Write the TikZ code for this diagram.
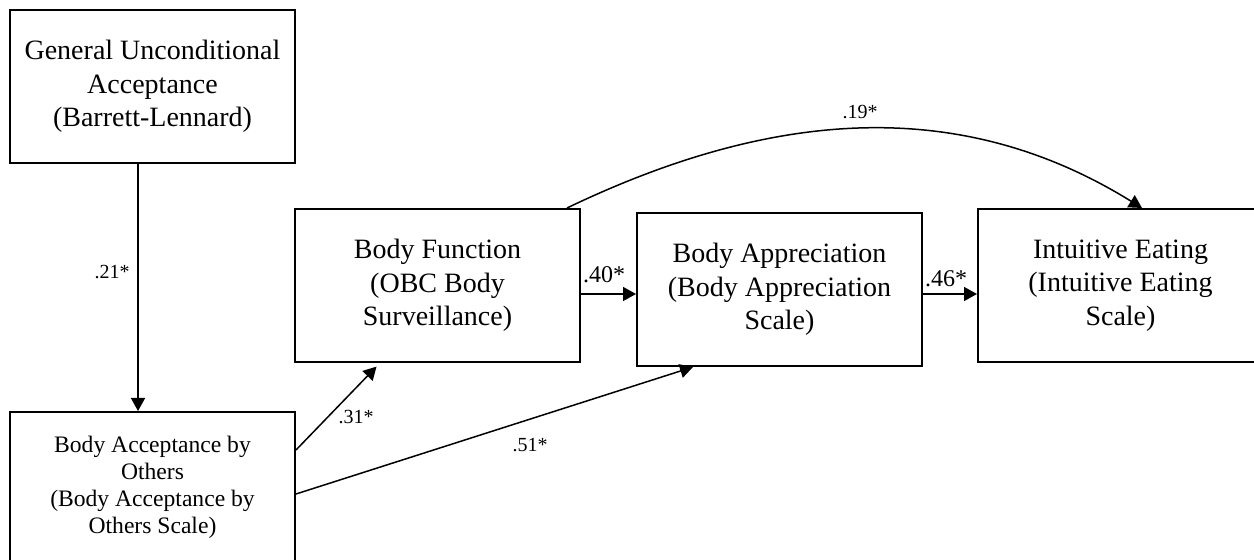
\documentclass[tikz,border=0pt]{standalone}
\usepackage{fontspec}
\setmainfont{Liberation Serif}
\usetikzlibrary{arrows.meta}

\begin{document}
\begin{tikzpicture}[x=0.5pt,y=-0.5pt,>={Triangle[length=6.5pt,width=7pt]},
box/.style={draw,line width=1pt,align=center,inner sep=0pt,minimum width=142.5pt,minimum height=76.5pt,font=\fontsize{14}{16.8}\selectfont},
link/.style={->,line width=0.75pt},
coef/.style={inner sep=0pt,font=\fontsize{10}{12}\selectfont}]
\useasboundingbox (0,0) rectangle (1254,560);

\node[box] (gua) at (152.5,86.5) {General Unconditional\\Acceptance\\(Barrett-Lennard)};
\node[box,minimum height=75.5pt,font=\fontsize{11.8}{13.5}\selectfont] (bao) at (152.5,487.5) {Body Acceptance by\\Others\\(Body Acceptance by\\Others Scale)};
\node[box] (bf) at (437.5,285.5) {Body Function\\(OBC Body\\Surveillance)};
\node[box] (ba) at (779.5,289.5) {Body Appreciation\\(Body Appreciation\\Scale)};
\node[box] (ie) at (1120.5,285.5) {Intuitive Eating\\(Intuitive Eating\\Scale)};

\draw[link] (gua.south -| 138,0) -- (bao.north -| 138,0);
\draw[link] (bf.east |- 0,294) -- (ba.west |- 0,294);
\draw[link] (ba.east |- 0,294) -- (ie.west |- 0,294);
\draw[link,shorten >=2.5pt] (bao.east |- 0,450) -- (bf.south -| 380,0);
\draw[link] (bao.east |- 0,494) -- (ba.south -| 693,0);
\draw[link] (bf.north -| 567,0) .. controls (765,113) and (955,92) .. (ie.north -| 1142,0);

\node[coef,anchor=east] (l21) at (130,272) {.21*};
\node[coef,font=\fontsize{12}{14}\selectfont] (l40) at (604,275) {.40*};
\node[coef,font=\fontsize{12}{14}\selectfont] (l46) at (946,279) {.46*};
\node[coef] (l31) at (356,417) {.31*};
\node[coef] (l51) at (530,445) {.51*};
\node[coef] (l19) at (860,112) {.19*};
\end{tikzpicture}
\end{document}
